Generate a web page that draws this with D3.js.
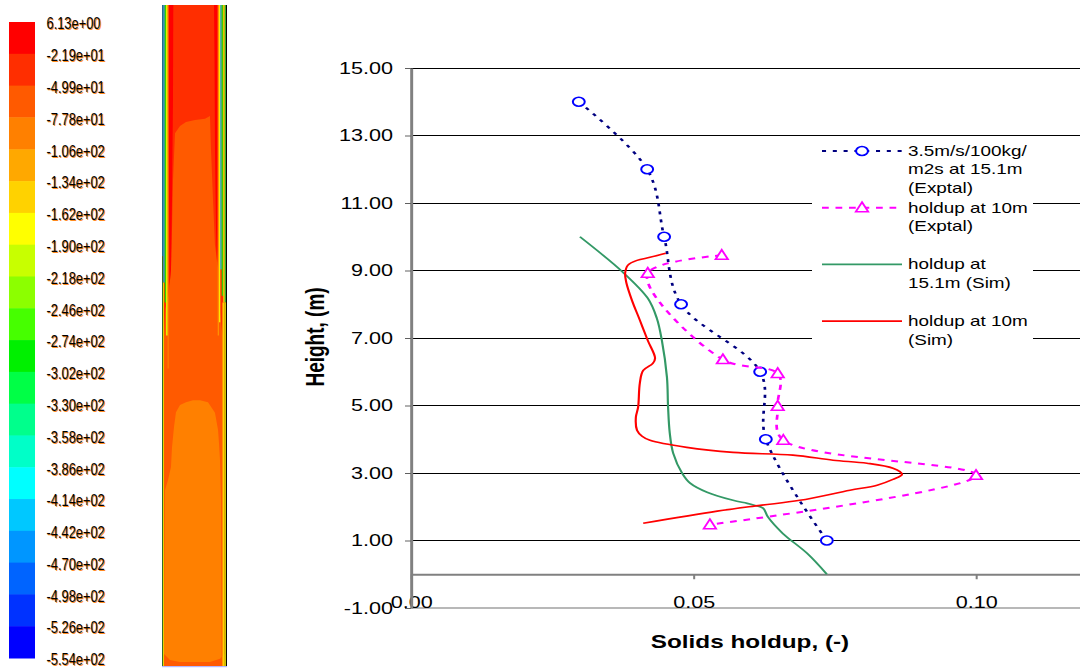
<!DOCTYPE html>
<html>
<head>
<meta charset="utf-8">
<script src="https://cdn.jsdelivr.net/npm/d3@7"></script>
<style>
  body { margin: 0; background: #fff; }
  svg { display: block; }
</style>
</head>
<body>
<svg id="fig" width="1080" height="671"></svg>
<script>
// ---------- contour legend (colour bar) ----------
const colorbarLabels = ["6.13e+00","-2.19e+01","-4.99e+01","-7.78e+01","-1.06e+02","-1.34e+02",
  "-1.62e+02","-1.90e+02","-2.18e+02","-2.46e+02","-2.74e+02","-3.02e+02","-3.30e+02","-3.58e+02",
  "-3.86e+02","-4.14e+02","-4.42e+02","-4.70e+02","-4.98e+02","-5.26e+02","-5.54e+02"];
const colorbarColors = ["#ff0000","#ff2e00","#ff5a00","#ff8000","#ffa800","#ffd200","#ffff00",
  "#c8ff00","#8cff00","#46ff00","#00f000","#00ff46","#00ff8c","#00ffc8","#00ffff","#00c8ff",
  "#0096ff","#0064ff","#0032ff","#0000ff"];

// ---------- contour field of the riser (r: 0..1 across, z: 0..1 bottom to top) ----------
const fieldBaseBand = 1;
const fieldMidRegion = [[.2,.806],[.277,.817],[.369,.823],[.508,.826],[.662,.828],[.738,.832],[.754,.781],
  [.785,.705],[.815,.637],[.846,.614],[.877,.592],[.877,.55],[.93,.5],[.93,0],[.03,0],[.03,.5],[.05,.54],
  [.1,.56],[.138,.599],[.154,.66],[.169,.735]];
const fieldLowRegion = [[.477,.402],[.585,.402],[.708,.399],[.815,.383],[.862,.357],[.877,.337],[.892,.312],
  [.908,.251],[.918,0],[.03,0],[.046,.266],[.092,.281],[.138,.301],[.154,.331],[.185,.362],[.215,.384],
  [.277,.395],[.369,.399]];
const fieldBottomLayer = [[0,0],[0,.021],[.062,.015],[.123,.009],[.277,.006],[.738,.006],[.892,.011],
  [.954,.017],[1,.021],[1,0]];
const fieldLeftPeak = [[.1,1],[.174,1],[.169,.856],[.154,.705],[.138,.599],[.115,.576],[.108,.705],[.1,.856]];
const fieldRightPeak = [[.8,1],[.857,1],[.857,.629],[.846,.611],[.831,.66],[.815,.781],[.808,.917]];
const fieldRegions = [
  { band: 2, pts: fieldMidRegion },
  { band: 3, pts: fieldLowRegion },
  { band: 2, pts: fieldBottomLayer },
  { band: 0, pts: fieldLeftPeak },
  { band: 0, pts: fieldRightPeak }
];
// near-wall layers: [r0, r1, z0, z1, colour]
const fieldWallLayers = [
  [0,.02,.62,1,"#1f6e8c"],[.02,.042,.58,1,"#00b4f0"],[.042,.062,.55,1,"#2ed400"],[.062,.088,.5,1,"#e6f000"],
  [.088,.1,.45,1,"#ff9000"],
  [.857,.877,.5,1,"#ff9000"],[.877,.897,.52,1,"#ffe600"],[.897,.918,.6,1,"#00d8f0"],[.918,.943,.56,1,"#3ccc00"],
  [.943,.965,.55,1,"#f0f000"],[.965,.985,.55,1,"#30b030"],[.985,1,0,1,"#000000"],
  [0,.015,0,.62,"#2d6e2d"],[.015,.03,0,.58,"#e8d800"],
  [.93,.96,0,.55,"#ffd000"],[.96,.985,0,.55,"#c8c800"]
];

// ---------- holdup profiles ----------
const heightTicks = [-1, 1, 3, 5, 7, 9, 11, 13, 15];
const gridHeights = [1, 3, 5, 7, 9, 11, 13, 15];
const holdupTicks = [0, 0.05, 0.10];

const expTopHoldup = [0.0297, 0.0418, 0.0448, 0.0478, 0.0618, 0.0628, 0.0736];
const expTopHeight = [14.0, 12.0, 10.0, 8.0, 6.0, 4.0, 1.0];

const expMidHoldup = [0.0550, 0.0419, 0.0552, 0.0649, 0.0649, 0.0659, 0.1000, 0.0529];
const expMidHeight = [9.45, 8.92, 6.36, 5.95, 4.98, 3.97, 2.93, 1.47];

const simTopHoldup = [0.0299, 0.0375, 0.0419, 0.0435, 0.0444, 0.0453, 0.0455, 0.0458, 0.0464, 0.0480,
  0.0494, 0.0524, 0.0570, 0.0595, 0.0609, 0.0623, 0.0632, 0.0658, 0.0701, 0.0736];
const simTopHeight = [10.0, 8.95, 8.18, 7.59, 6.93, 5.84, 4.95, 4.18, 3.59, 2.99,
  2.70, 2.43, 2.19, 2.10, 2.04, 1.96, 1.69, 1.21, 0.62, 0.0];

const simMidHoldup = [0.0451, 0.0423, 0.0400, 0.0384, 0.0379, 0.0381, 0.0391, 0.0405, 0.0419, 0.0432,
  0.0428, 0.0411, 0.0405, 0.0402, 0.0398, 0.0400, 0.0409, 0.0423, 0.0488, 0.0570, 0.0676, 0.0747,
  0.0807, 0.0853, 0.0869, 0.0853, 0.0825, 0.0777, 0.0688, 0.0618, 0.0542, 0.0411];
const simMidHeight = [9.51, 9.39, 9.30, 9.16, 8.92, 8.65, 8.12, 7.53, 6.93, 6.40,
  6.25, 6.04, 5.66, 4.95, 4.65, 4.27, 4.09, 3.97, 3.76, 3.61, 3.53, 3.38,
  3.29, 3.14, 2.96, 2.81, 2.64, 2.49, 2.19, 2.04, 1.87, 1.51];

const seriesNames = [
  ["3.5m/s/100kg/", "m2s at 15.1m", "(Exptal)"],
  ["holdup at 10m", "(Exptal)"],
  ["holdup at", "15.1m (Sim)"],
  ["holdup at 10m", "(Sim)"]
];

const FONT = "'Liberation Sans', Arial, Helvetica, sans-serif";
const fmt2 = v => d3.format(".2f")(v).replace("\u2212", "-");
const svg = d3.select("#fig");

// ================= left panel: colour bar + riser contour =================
const left = svg.append("g");
const cbValues = colorbarLabels.map(Number);
const cbY = d3.scaleLinear().domain([cbValues[cbValues.length - 1], cbValues[0]]).range([658, 22]);

left.append("g").selectAll("rect").data(colorbarColors).join("rect")
  .attr("x", 9).attr("width", 26)
  .attr("y", (d, i) => cbY(cbValues[i]))
  .attr("height", (d, i) => cbY(cbValues[i + 1]) - cbY(cbValues[i]) + 0.5)
  .attr("fill", d => d);

const cbLab = left.append("g").attr("font-family", FONT).attr("font-size", 16.5)
  .selectAll("g").data(colorbarLabels).join("g")
  .attr("transform", (d, i) => `translate(46.5,${cbY(cbValues[i]) + 1.5}) scale(0.78,1)`);
cbLab.append("text").attr("x", 1.4).attr("y", 1).attr("dy", "0.35em").attr("fill", "#ff8a1e").text(d => d);
cbLab.append("text").attr("dy", "0.35em").attr("fill", "#000").text(d => d);

const sr = d3.scaleLinear().domain([0, 1]).range([162, 227]);
const sz = d3.scaleLinear().domain([0, 1]).range([666, 5]);
const field = left.append("g");
field.append("rect").attr("x", sr(0)).attr("y", sz(1))
  .attr("width", sr(1) - sr(0)).attr("height", sz(0) - sz(1))
  .attr("fill", colorbarColors[fieldBaseBand]);
const regionPath = d3.line().x(d => sr(d[0])).y(d => sz(d[1])).curve(d3.curveLinearClosed);
field.selectAll("path.region").data(fieldRegions).join("path")
  .attr("class", "region")
  .attr("d", d => regionPath(d.pts))
  .attr("fill", d => colorbarColors[d.band]);
field.selectAll("rect.wall").data(fieldWallLayers).join("rect")
  .attr("class", "wall")
  .attr("x", d => sr(d[0])).attr("width", d => sr(d[1]) - sr(d[0]))
  .attr("y", d => sz(d[3])).attr("height", d => sz(d[2]) - sz(d[3]))
  .attr("fill", d => d[4]);
field.append("rect").attr("x", sr(0)).attr("y", sz(0)).attr("width", sr(1) - sr(0)).attr("height", 1.2)
  .attr("fill", "#b4b8ff");

// ================= right panel: holdup vs height =================
const SX = 1.35; // horizontal stretch of the chart panel
const plot = svg.append("g").attr("transform", `scale(${SX},1)`);
const x = d3.scaleLinear().domain([0, 0.12]).range([411 / SX, 1089 / SX]);
const y = d3.scaleLinear().domain([-1, 15]).range([608, 68]);

// horizontal grid
plot.append("g").selectAll("line").data(gridHeights).join("line")
  .attr("x1", x(0)).attr("x2", x(0.12))
  .attr("y1", d => y(d)).attr("y2", d => y(d))
  .attr("stroke", "#000").attr("stroke-width", 1).attr("shape-rendering", "crispEdges");
plot.append("line")
  .attr("x1", x(0)).attr("x2", x(0.12)).attr("y1", y(-1)).attr("y2", y(-1))
  .attr("stroke", "#a0a0a0").attr("stroke-width", 1.5);

// x axis at zero height, labels along the bottom edge
const gx = plot.append("g").attr("transform", `translate(0,${y(0)})`)
  .call(d3.axisBottom(x).tickValues(holdupTicks).tickFormat(fmt2)
    .tickSize(5).tickSizeOuter(0).tickPadding(y(-1) - y(0) - 16.5));
gx.select(".domain").attr("stroke", "#808080").attr("stroke-width", 2);
gx.selectAll(".tick line").attr("stroke", "#808080").attr("stroke-width", 1.5);
gx.selectAll("text").attr("font-family", FONT).attr("font-size", 16).attr("fill", "#000");

// y axis
const gy = plot.append("g").attr("transform", `translate(${x(0)},0)`)
  .call(d3.axisLeft(y).tickValues(heightTicks).tickFormat(fmt2)
    .tickSize(6 / SX).tickSizeOuter(0).tickPadding(12 / SX));
gy.select(".domain").attr("stroke", "#808080").attr("stroke-width", 2.2);
gy.selectAll(".tick line").attr("stroke", "#606060").attr("stroke-width", 1);
gy.selectAll("text").attr("font-family", FONT).attr("font-size", 16).attr("fill", "#000");

// axis titles
plot.append("text")
  .attr("x", 750 / SX).attr("y", 648).attr("text-anchor", "middle")
  .attr("font-family", FONT).attr("font-size", 18).attr("font-weight", "bold")
  .text("Solids holdup, (-)");
plot.append("text")
  .attr("transform", `translate(${315 / SX},337) rotate(-90)`)
  .attr("text-anchor", "middle").attr("dy", "0.35em")
  .attr("font-family", FONT).attr("font-size", 19).attr("font-weight", "bold")
  .text("Height, (m)");

// series
const series = [
  { name: seriesNames[0], v: expTopHoldup, h: expTopHeight, color: "#000080", width: 2, dash: "3,5", marker: "circle", markerColor: "#0000ff" },
  { name: seriesNames[1], v: expMidHoldup, h: expMidHeight, color: "#ff00ff", width: 2, dash: "5,5", marker: "triangle", markerColor: "#ff00ff" },
  { name: seriesNames[2], v: simTopHoldup, h: simTopHeight, color: "#339966", width: 1.6, dash: null, marker: null },
  { name: seriesNames[3], v: simMidHoldup, h: simMidHeight, color: "#ff0000", width: 1.6, dash: null, marker: null }
];

const curve = d3.line().x(d => x(d[0])).y(d => y(d[1])).curve(d3.curveCatmullRom.alpha(0.5));
const triPath = "M0,-5.5L4.6,4L-4.6,4Z";

function drawMarker(g, kind, color, cx, cy) {
  if (kind === "circle") {
    g.append("circle").attr("cx", cx).attr("cy", cy).attr("r", 4.4)
      .attr("fill", "#fff").attr("stroke", color).attr("stroke-width", 1.5);
  } else if (kind === "triangle") {
    g.append("path").attr("d", triPath).attr("transform", `translate(${cx},${cy})`)
      .attr("fill", "#fff").attr("stroke", color).attr("stroke-width", 1.5);
  }
}

series.forEach(s => {
  const pts = s.v.map((v, i) => [v, s.h[i]]);
  const g = plot.append("g");
  g.append("path").attr("d", curve(pts)).attr("fill", "none")
    .attr("stroke", s.color).attr("stroke-width", s.width)
    .attr("stroke-dasharray", s.dash);
  if (s.marker) pts.forEach(p => drawMarker(g, s.marker, s.markerColor, x(p[0]), y(p[1])));
});

// legend
const legend = plot.append("g");
legend.append("rect").attr("x", 812 / SX).attr("y", 137).attr("width", 221 / SX).attr("height", 210)
  .attr("fill", "#fff");
series.forEach((s, i) => {
  const cy = 151 + i * 56.7;
  legend.append("line").attr("x1", 822 / SX).attr("x2", 902 / SX).attr("y1", cy).attr("y2", cy)
    .attr("stroke", s.color).attr("stroke-width", s.width).attr("stroke-dasharray", s.dash);
  if (s.marker) drawMarker(legend, s.marker, s.markerColor, 862 / SX, cy);
  const t = legend.append("text").attr("font-family", FONT).attr("font-size", 14).attr("fill", "#000");
  s.name.forEach((ln, k) => {
    t.append("tspan").attr("x", 908 / SX).attr("y", cy + 5 + k * 18.5).text(ln);
  });
});
</script>
</body>
</html>
